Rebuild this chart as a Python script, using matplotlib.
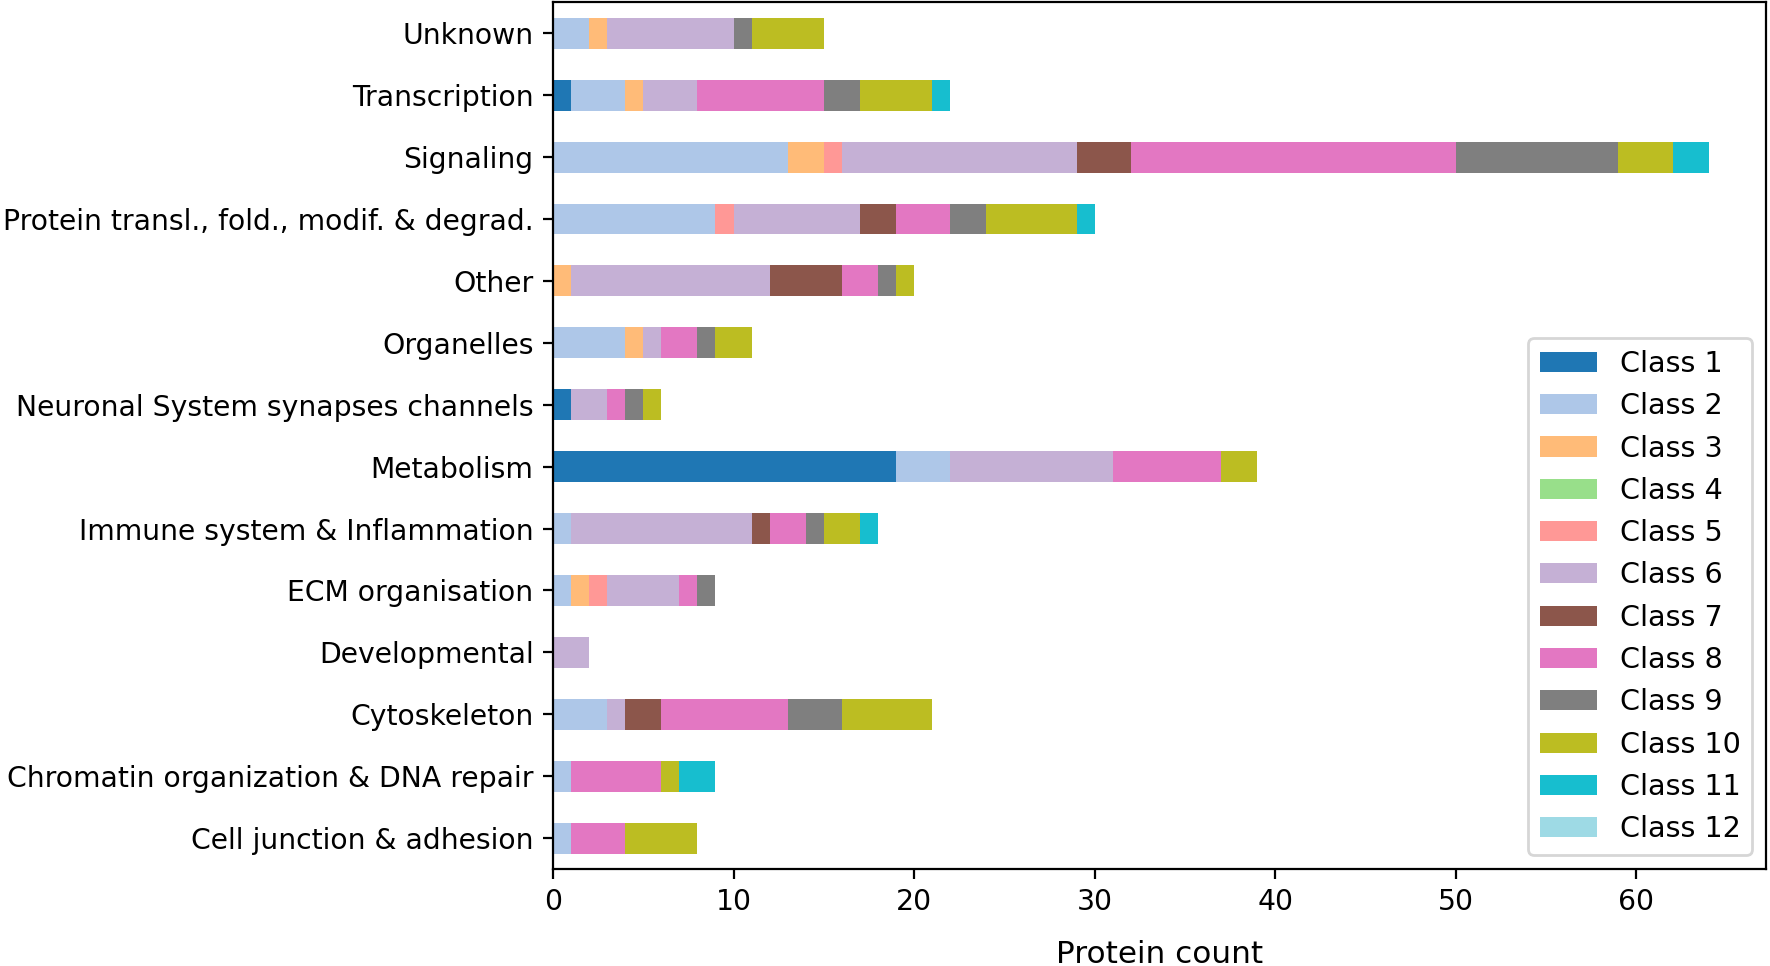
import numpy as np
import matplotlib
matplotlib.use('Agg')
import matplotlib.pyplot as plt

# categories, bottom to top
categories = ['Cell junction & adhesion', 'Chromatin organization & DNA repair',
              'Cytoskeleton', 'Developmental', 'ECM organisation',
              'Immune system & Inflammation', 'Metabolism',
              'Neuronal System synapses channels', 'Organelles', 'Other',
              'Protein transl., fold., modif. & degrad.', 'Signaling',
              'Transcription', 'Unknown']

class1 = [0, 0, 0, 0, 0, 0, 19, 1, 0, 0, 0, 0, 1, 0]
class2 = [1, 1, 3, 0, 1, 1, 3, 0, 4, 0, 9, 13, 3, 2]
class3 = [0, 0, 0, 0, 1, 0, 0, 0, 1, 1, 0, 2, 1, 1]
class4 = [0, 0, 0, 0, 0, 0, 0, 0, 0, 0, 0, 0, 0, 0]
class5 = [0, 0, 0, 0, 1, 0, 0, 0, 0, 0, 1, 1, 0, 0]
class6 = [0, 0, 1, 2, 4, 10, 9, 2, 1, 11, 7, 13, 3, 7]
class7 = [0, 0, 2, 0, 0, 1, 0, 0, 0, 4, 2, 3, 0, 0]
class8 = [3, 5, 7, 0, 1, 2, 6, 1, 2, 2, 3, 18, 7, 0]
class9 = [0, 0, 3, 0, 1, 1, 0, 1, 1, 1, 2, 9, 2, 1]
class10 = [4, 1, 5, 0, 0, 2, 2, 1, 2, 1, 5, 3, 4, 4]
class11 = [0, 2, 0, 0, 0, 1, 0, 0, 0, 0, 1, 2, 1, 0]
class12 = [0, 0, 0, 0, 0, 0, 0, 0, 0, 0, 0, 0, 0, 0]

series = [class1, class2, class3, class4, class5, class6,
          class7, class8, class9, class10, class11, class12]
labels = ['Class %d' % (i + 1) for i in range(12)]
colors = ['#1f77b4', '#aec7e8', '#ffbb78', '#98df8a', '#ff9896', '#c5b0d5',
          '#8c564b', '#e377c2', '#7f7f7f', '#bcbd22', '#17becf', '#9edae5']

fig = plt.figure(figsize=(8.85, 4.83), dpi=200)
ax = fig.add_axes([0.3124, 0.1004, 0.6856, 0.8972])

y = np.arange(len(categories))
left = np.zeros(len(categories))
for vals, lab, col in zip(series, labels, colors):
    vals = np.array(vals, dtype=float)
    ax.barh(y, vals, height=0.5, left=left, color=col, label=lab)
    left += vals

ax.set_yticks(y)
ax.set_yticklabels(categories, fontsize=10.2)
ax.tick_params(axis='x', labelsize=10.2)
ax.set_ylim(-0.5, len(categories) - 0.5)
ax.set_xlim(0, left.max() * 1.05)
ax.set_xlabel('Protein count', fontsize=11.2, labelpad=8.5)
ax.legend(loc='lower right', fontsize=10.3)

fig.savefig('out.png', dpi=200)
